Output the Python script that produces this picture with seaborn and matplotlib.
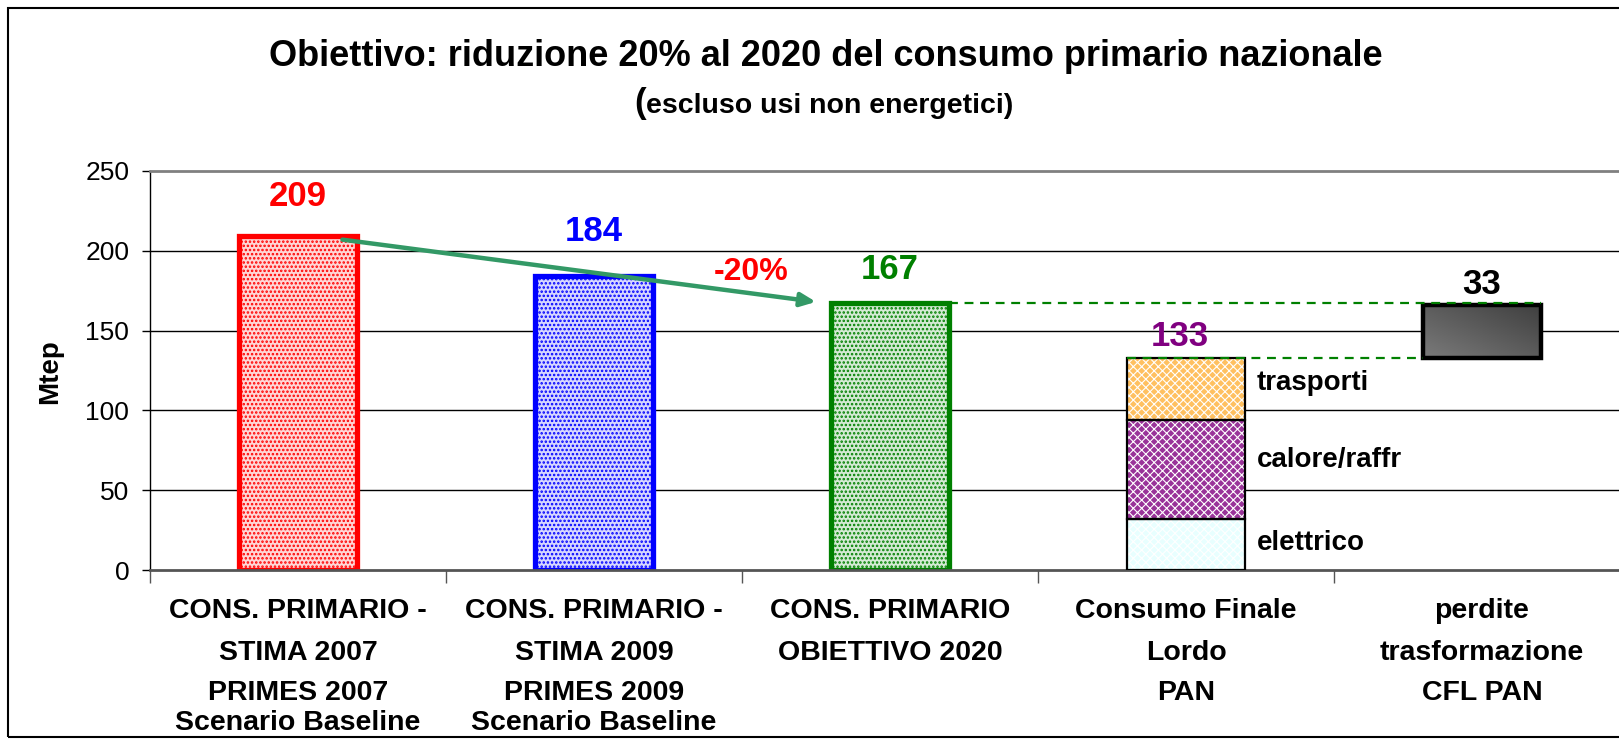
import matplotlib
matplotlib.use("Agg")
import matplotlib.pyplot as plt
import matplotlib.transforms as mtransforms
from matplotlib.patches import Rectangle
import numpy as np
import pandas as pd
import seaborn as sns

# data
categories = [
    "CONS. PRIMARIO - STIMA 2007",
    "CONS. PRIMARIO - STIMA 2009",
    "CONS. PRIMARIO OBIETTIVO 2020",
    "Consumo Finale Lordo PAN",
    "perdite trasformazione CFL PAN",
]
category_lines = [
    ["CONS. PRIMARIO -", "STIMA 2007", "PRIMES 2007", "Scenario Baseline"],
    ["CONS. PRIMARIO -", "STIMA 2009", "PRIMES 2009", "Scenario Baseline"],
    ["CONS. PRIMARIO", "OBIETTIVO 2020"],
    ["Consumo Finale", "Lordo", "PAN"],
    ["perdite", "trasformazione", "CFL PAN"],
]
primary_values = [209, 184, 167]
primary_colors = ["#ff0000", "#0000ff", "#008000"]
primary_faces = ["#ffd6d6", "#d6d6ff", "#d4ead4"]
final_segments = ["elettrico", "calore/raffr", "trasporti"]
final_values = [32, 62, 39]
final_faces = ["#e8ffff", "#993399", "#ffc060"]
final_total = 133
losses = 33
reduction_label = "-20%"
y_ticks = [0, 50, 100, 150, 200, 250]

title = "Obiettivo: riduzione 20% al 2020 del consumo primario nazionale"
subtitle = "escluso usi non energetici)"

sns.set_style("white")
plt.rcParams["font.family"] = ["Liberation Sans", "DejaVu Sans"]
plt.rcParams["text.color"] = "black"
plt.rcParams["axes.labelcolor"] = "black"
plt.rcParams["xtick.color"] = "black"
plt.rcParams["ytick.color"] = "black"
plt.rcParams["hatch.linewidth"] = 1.2

fig = plt.figure(figsize=(16.19, 7.40), dpi=100)
ax = fig.add_axes([150 / 1619, 1 - 570 / 740, 1480 / 1619, 399 / 740])

df = pd.DataFrame({"cat": categories[:3], "val": primary_values})
sns.barplot(data=df, x="cat", y="val", order=categories, hue="cat",
            palette=primary_faces, width=0.4, legend=False, ax=ax, zorder=2)
for patch, ec, fc in zip(ax.patches, primary_colors, primary_faces):
    patch.set_facecolor(fc)
    patch.set_edgecolor(ec)
    patch.set_linewidth(3.8)
    patch.set_hatch("....")

# stacked final consumption bar
plt.rcParams["hatch.linewidth"] = 0.8
bottom = 0
for val, fc in zip(final_values, final_faces):
    ax.bar(3, val, bottom=bottom, width=0.4, color=fc, edgecolor="white",
           linewidth=0, hatch="xxxx", zorder=2)
    ax.bar(3, val, bottom=bottom, width=0.4, fill=False, edgecolor="black",
           linewidth=1.6, zorder=3)
    bottom += val

# floating losses bar with gradient
loss_bar = ax.bar(4, losses, bottom=final_total, width=0.4, color="#606060",
                  edgecolor="black", linewidth=3.2, zorder=3)[0]
gx = np.linspace(0, 1, 60)
grad = 0.25 + 0.23 * (np.add.outer(gx, 1 - gx)) / 2
im = ax.imshow(grad, cmap="gray", vmin=0, vmax=1, aspect="auto",
               extent=(3.8, 4.2, final_total, final_total + losses), zorder=3)
im.set_clip_path(loss_bar)
loss_bar.set_facecolor("none")
loss_bar.set_zorder(4)

# dashed guide lines
ax.plot([2.2, 4.2], [primary_values[2], primary_values[2]], ls=(0, (4, 3)),
        color="#008000", lw=1.6, zorder=5)
ax.plot([2.8, 3.8], [final_total, final_total], ls=(0, (4, 3)),
        color="#008000", lw=1.6, zorder=5)

# arrow
ax.annotate("", xy=(1.75, 168), xytext=(0.15, 207),
            arrowprops=dict(arrowstyle="-|>,head_length=0.9,head_width=0.4",
                            color="#339966", lw=3.2, shrinkA=0, shrinkB=0),
            zorder=6)

# value labels
ax.text(0, 234, str(primary_values[0]), color="#ff0000", fontsize=25,
        fontweight="bold", ha="center", va="center")
ax.text(1, 212, str(primary_values[1]), color="#0000ff", fontsize=25,
        fontweight="bold", ha="center", va="center")
ax.text(2, 188, str(primary_values[2]), color="#008000", fontsize=25,
        fontweight="bold", ha="center", va="center")
ax.text(1.53, 187, reduction_label, color="#ff0000", fontsize=23,
        fontweight="bold", ha="center", va="center")
ax.text(2.98, 146, str(final_total), color="#800080", fontsize=25,
        fontweight="bold", ha="center", va="center")
ax.text(4.0, 179, str(losses), color="black", fontsize=25,
        fontweight="bold", ha="center", va="center")

seg_y = [17, 69, 117]
for name, y in zip(final_segments, seg_y):
    ax.text(3.24, y, name, fontsize=20, fontweight="bold", ha="left", va="center")

# axes styling
ax.set_xlim(-0.5, 4.5)
ax.set_ylim(0, 250)
ax.set_yticks(y_ticks)
ax.set_yticklabels([str(t) for t in y_ticks], fontsize=19)
ax.set_xticks([])
ax.set_xticks([-0.5, 0.5, 1.5, 2.5, 3.5], minor=True)
ax.tick_params(axis="x", which="minor", length=9, width=1, color="#555555",
               bottom=True)
ax.tick_params(axis="y", length=6, width=1, left=True, color="black", pad=9)
ax.set_xlabel("")
ax.set_ylabel("Mtep", fontsize=20, fontweight="bold")
ax.yaxis.set_label_coords(-87 / 1480, 0.496)
ax.set_axisbelow(True)
for y in y_ticks[1:-1]:
    ax.axhline(y, color="black", lw=1, zorder=0)
ax.spines["top"].set_color("#808080")
ax.spines["top"].set_linewidth(2)
ax.spines["bottom"].set_color("#555555")
ax.spines["bottom"].set_linewidth(2)
ax.spines["left"].set_color("black")
ax.spines["left"].set_linewidth(1)
ax.spines["right"].set_visible(False)

# category labels
trans = mtransforms.blended_transform_factory(ax.transData, fig.transFigure)
line_y = [1 - 611 / 740, 1 - 653 / 740, 1 - 693 / 740, 1 - 723 / 740]
for i, lines in enumerate(category_lines):
    for j, line in enumerate(lines):
        ax.text(i, line_y[j], line, transform=trans, fontsize=20.5,
                fontweight="bold", ha="center", va="center", clip_on=False)

# titles
fig.text(826 / 1619, 1 - 57 / 740, title, fontsize=26, fontweight="bold",
         ha="center", va="center")
fig.text(646 / 1619, 1 - 106 / 740, subtitle, fontsize=20.5, fontweight="bold",
         ha="left", va="center")
fig.text(646 / 1619, 1 - 104 / 740, "(", fontsize=25, fontweight="bold",
         ha="right", va="center")

# outer frame
fig.patches.append(Rectangle((8 / 1619, 3 / 740), 1.0, 1 - 11 / 740,
                             transform=fig.transFigure, fill=False,
                             edgecolor="black", lw=1.5))

fig.savefig("out.png", dpi=100)
